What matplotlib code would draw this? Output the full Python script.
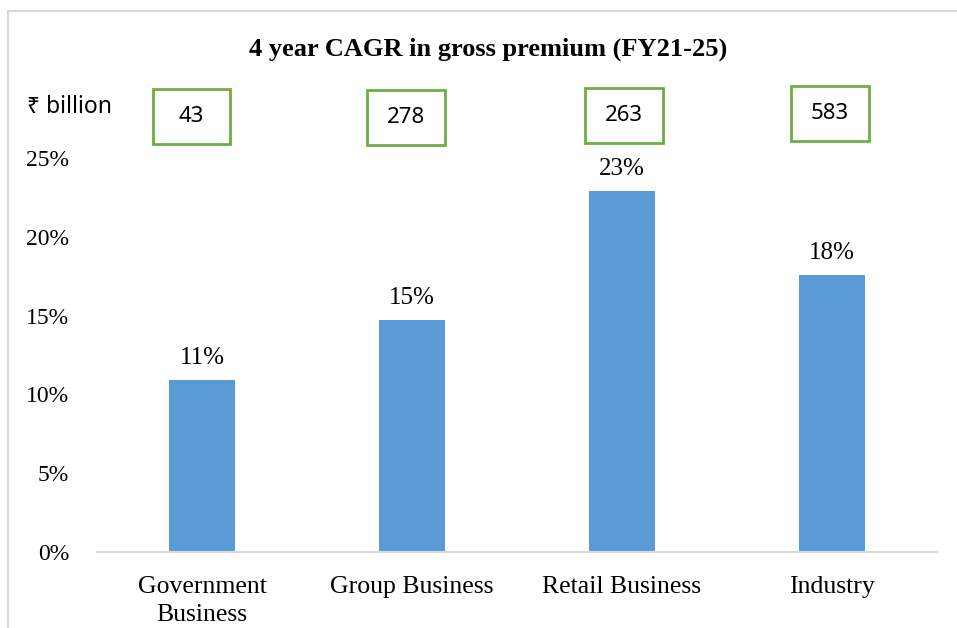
import matplotlib
matplotlib.use("Agg")
import matplotlib.pyplot as plt
from matplotlib.patches import Rectangle
import matplotlib.transforms as mtransforms

categories = ["Government\nBusiness", "Group Business", "Retail Business", "Industry"]
cagr = [10.9, 14.7, 22.9, 17.6]
cagr_labels = ["11%", "15%", "23%", "18%"]
premium = ["43", "278", "263", "583"]
yticks = [0, 5, 10, 15, 20, 25]
title = "4 year CAGR in gross premium (FY21-25)"

W, H = 957, 628
fig = plt.figure(figsize=(W / 100, H / 100), dpi=100)
serif = "Liberation Serif"
sans = ["Noto Sans", "DejaVu Sans"]

# outer frame
fig.patches.append(Rectangle((8 / W, -0.1), 1.2, 1 - 11 / H + 0.1, transform=fig.transFigure,
                             fill=False, edgecolor="#D9D9D9", linewidth=1.5))

ax = fig.add_axes([97 / W, (H - 552) / H, (937 - 97) / W, (552 - 158) / H])
x = list(range(len(categories)))
ax.bar(x, cagr, width=0.31, color="#5B9BD5", zorder=2)
ax.set_xlim(-0.5, len(categories) - 0.5)
ax.set_ylim(0, 25)
for s in ["top", "right", "left"]:
    ax.spines[s].set_visible(False)
ax.spines["bottom"].set_color("#D9D9D9")
ax.spines["bottom"].set_linewidth(1.5)
ax.set_yticks(yticks)
ax.set_yticklabels([f"{v}%" for v in yticks], fontfamily=serif, fontsize=17)
ax.set_xticks(x)
ax.set_xticklabels(categories, fontfamily=serif, fontsize=18.5, linespacing=1.4)
ax.tick_params(axis="both", length=0)
ax.tick_params(axis="y", pad=20)
ax.tick_params(axis="x", pad=17)

offset = mtransforms.offset_copy(ax.transData, fig=fig, x=0, y=8, units="points")
for xi, v, lab in zip(x, cagr, cagr_labels):
    ax.text(xi, v, lab, transform=offset, ha="center", va="bottom",
            fontfamily=serif, fontsize=18, clip_on=False)

# premium boxes
bt = mtransforms.blended_transform_factory(ax.transData, fig.transFigure)
box_w = 0.37
box_h = 55 / H
box_bottom = [(H - 144) / H, (H - 145) / H, (H - 143) / H, (H - 141) / H]
box_dx = [-0.05, -0.03, 0.01, -0.01]
for xi, p, dx, bb in zip(x, premium, box_dx, box_bottom):
    cx = xi + dx
    r = Rectangle((cx - box_w / 2, bb), box_w, box_h, transform=bt,
                  fill=False, edgecolor="#70AD47", linewidth=2, clip_on=False)
    fig.patches.append(r)
    ax.text(cx, bb + box_h / 2, p, transform=bt, ha="center", va="center",
            fontfamily=sans, fontsize=16, clip_on=False)

fig.text(27 / W, 1 - 107 / H, "₹ billion", ha="left", va="center", fontfamily=sans, fontsize=16.5)
fig.text(488 / W, 1 - 49 / H, title, ha="center", va="center", fontfamily=serif,
         fontsize=19, fontweight="bold")

fig.savefig("out.png", dpi=100)
